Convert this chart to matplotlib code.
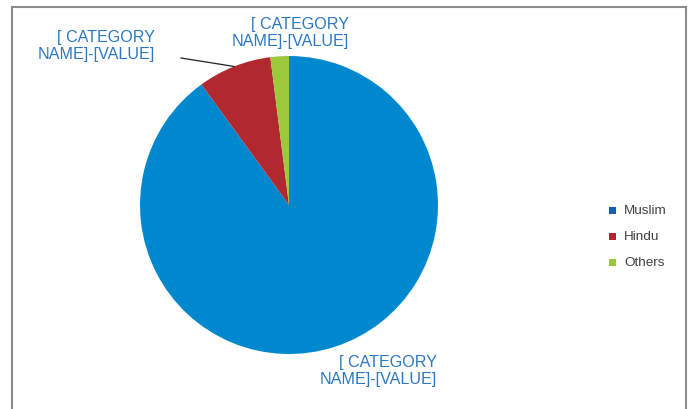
import matplotlib
matplotlib.use("Agg")
import matplotlib.pyplot as plt
from matplotlib.patches import Rectangle
from matplotlib.lines import Line2D
import numpy as np

plt.rcParams['font.family'] = ['Liberation Sans', 'DejaVu Sans']

# Religious composition (percent)
categories = ["Muslim", "Hindu", "Others"]
values = [90, 8, 2]
slice_colors = ["#0088CE", "#B1292F", "#9BC93B"]
legend_colors = ["#1260AC", "#B1292F", "#9BC93B"]
label_text = "[ CATEGORY\nNAME]-[VALUE]"

W, H = 689, 410
fig = plt.figure(figsize=(W / 100, H / 100), dpi=100)
ax = fig.add_axes([0, 0, 1, 1])

cx, cy, r = 289, H - 206, 149
wedges, _ = ax.pie(values, colors=slice_colors, startangle=90,
                   counterclock=False, center=(cx, cy), radius=r,
                   wedgeprops=dict(linewidth=0), frame=True)
ax.set_aspect('auto')
ax.set_xlim(0, W)
ax.set_ylim(0, H)
ax.axis('off')

# chart frame (top, left, right edges; bottom runs off the canvas)
frame_kw = dict(color="#8C8C8C", linewidth=1.5, transform=ax.transData)
for xs, ys in [([12, 686], [H - 8, H - 8]), ([12, 12], [H - 8, -10]),
               ([686, 686], [H - 8, -10])]:
    ax.add_line(Line2D(xs, ys, **frame_kw))

lab_color = "#2B78C0"
fs = 11.6
ls = 1.2
# Muslim label (below right)
ax.text(437, H - 371, label_text, ha='right', va='center', fontsize=fs,
        color=lab_color, multialignment='right', linespacing=ls)
# Hindu label (upper left) with leader line
ax.text(155, H - 46, label_text, ha='right', va='center', fontsize=fs,
        color=lab_color, multialignment='right', linespacing=ls)
w = wedges[1]
mid = np.deg2rad((w.theta1 + w.theta2) / 2)
ex, ey = cx + r * np.cos(mid), cy + r * np.sin(mid)
ax.plot([181, ex], [H - 59, ey], color="#222222", linewidth=0.9)
# Others label (top)
ax.text(349, H - 33, label_text, ha='right', va='center', fontsize=fs,
        color=lab_color, multialignment='right', linespacing=ls)

# legend
for i, (name, col) in enumerate(zip(categories, legend_colors)):
    y = H - (211.5 + 26 * i)
    ax.add_patch(Rectangle((609, y - 3.5), 7, 7, facecolor=col, edgecolor='none'))
    ax.text(624, y, name, ha='left', va='center', fontsize=9.7, color="#404040")

fig.savefig("out.png", dpi=100)
